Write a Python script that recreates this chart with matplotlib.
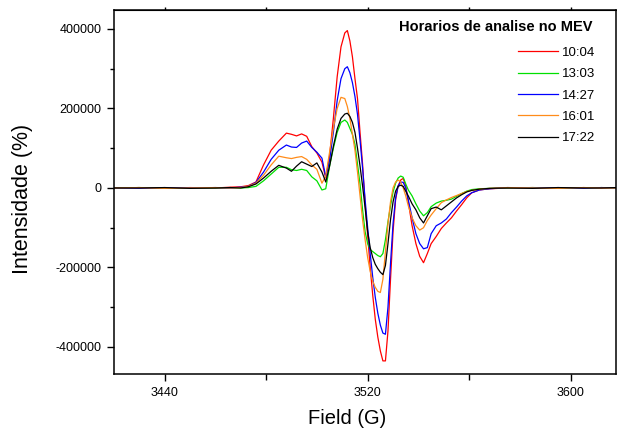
import matplotlib.pyplot as plt
from matplotlib.ticker import MultipleLocator, FixedLocator

plt.rcParams['font.family'] = ['Liberation Sans', 'DejaVu Sans']
plt.rcParams['axes.unicode_minus'] = False

# field (G) and intensities (in thousands)
field = [3420, 3430, 3440, 3450, 3460, 3466, 3470, 3473, 3476, 3479,
         3482, 3485, 3488, 3490, 3492, 3494, 3496, 3498, 3500, 3502,
         3503.5, 3505, 3506.5, 3508, 3509.5, 3511, 3512, 3513, 3514, 3515,
         3516, 3517, 3518, 3519, 3520, 3521, 3522, 3523, 3524, 3525,
         3526, 3527, 3528, 3529, 3530, 3531, 3532, 3533, 3534, 3535,
         3536, 3537.5, 3539, 3540.5, 3542, 3543.5, 3545, 3547, 3549, 3551,
         3553, 3555, 3557, 3559, 3561, 3564, 3568, 3575, 3585, 3595,
         3605, 3612, 3618]

t1004 = [0, 1, -1, 1, 0, 2, 3, 6, 15, 58,
         95, 118, 138, 135, 131, 136, 130, 104, 88, 65,
         25, 80, 175, 280, 355, 390, 396, 370, 330, 275,
         225, 140, 60, -40, -120, -200, -270, -330, -375, -410,
         -435, -435, -360, -230, -110, -30, 5, 20, 24, 5,
         -35, -95, -140, -172, -188, -165, -140, -122, -102, -88,
         -75, -58, -42, -25, -12, -5, -2, 0, 1, -1,
         1, 0, 1]

t1303 = [0, 1, 0, -1, 0, 1, 0, 1, 4, 18,
         35, 52, 52, 46, 44, 47, 44, 28, 18, -5,
         -2, 55, 100, 140, 165, 171, 165, 150, 135, 110,
         60, 10, -55, -110, -140, -155, -160, -165, -170, -173,
         -165, -130, -85, -45, -10, 12, 25, 30, 27, 10,
         -5, -20, -40, -58, -70, -62, -47, -38, -33, -31,
         -28, -21, -14, -8, -4, -2, -1, 0, 1, 0,
         -1, 1, 0]

t1427 = [0, -1, 1, 0, 1, 0, 2, 4, 14, 40,
         72, 95, 108, 103, 102, 113, 118, 102, 90, 75,
         28, 70, 140, 220, 275, 300, 305, 290, 265, 230,
         185, 120, 50, -30, -100, -165, -225, -275, -315, -345,
         -365, -368, -300, -190, -90, -25, 5, 15, 14, 0,
         -30, -75, -115, -140, -153, -150, -115, -95, -88, -78,
         -62, -48, -33, -20, -12, -5, -2, 1, 0, 1,
         -1, 1, 0]

t1601 = [0, 1, -1, 0, 1, 0, 1, 4, 12, 32,
         58, 80, 76, 74, 77, 79, 72, 58, 47, 12,
         30, 90, 150, 200, 228, 225, 205, 175, 135, 95,
         40, -20, -80, -130, -175, -210, -235, -250, -260, -263,
         -230, -160, -90, -35, 0, 15, 20, 15, 0, -20,
         -45, -75, -95, -106, -100, -82, -68, -52, -37, -30,
         -24, -19, -14, -9, -6, -3, -1, 1, 0, -1,
         1, 0, 0]

t1722 = [0, 0, 1, -1, 0, 1, 0, 3, 10, 25,
         42, 57, 50, 42, 55, 66, 60, 54, 63, 40,
         15, 55, 105, 148, 175, 186, 188, 180, 165, 140,
         100, 55, 5, -50, -110, -150, -175, -192, -203, -212,
         -218, -195, -140, -80, -35, -8, 4, 7, 4, -8,
         -20, -40, -55, -75, -88, -70, -52, -48, -55, -45,
         -35, -25, -17, -10, -6, -3, -1, 0, -1, 1,
         0, 0, 1]

labels = ['10:04', '13:03', '14:27', '16:01', '17:22']
series = [t1004, t1303, t1427, t1601, t1722]
colors = ['#ff0000', '#00e000', '#0000ff', '#ff8c1a', '#000000']

fig = plt.figure(figsize=(6.17, 4.28), dpi=100)
ax = fig.add_axes([0.1843, 0.1255, 0.8141, 0.8512])

for i in range(5):
    ax.plot(field, [v * 1000 for v in series[i]], color=colors[i], lw=0.9,
            label=labels[i])

ax.set_xlim(3420, 3617.8)
ax.set_ylim(-468700, 447800)

ax.xaxis.set_major_locator(FixedLocator([3440, 3520, 3600]))
ax.xaxis.set_minor_locator(FixedLocator([3480, 3560]))
ax.yaxis.set_major_locator(MultipleLocator(200000))
ax.yaxis.set_minor_locator(MultipleLocator(100000))
ax.yaxis.set_major_formatter(lambda v, p: '%d' % v)

ax.tick_params(which='both', direction='out', width=1, labelsize=9)
ax.tick_params(which='major', length=5, pad=4)
ax.tick_params(which='minor', length=3)
ax.tick_params(axis='x', which='minor', length=4)
for s in ax.spines.values():
    s.set_linewidth(1.1)

# short ticks on the top frame
top = ax.secondary_xaxis('top')
top.xaxis.set_major_locator(FixedLocator([3440, 3520, 3600]))
top.xaxis.set_minor_locator(FixedLocator([3480, 3560]))
top.tick_params(which='both', direction='out', length=2.5, width=1,
                labeltop=False)

ax.set_xlabel('Field (G)', fontsize=14.5)
ax.set_ylabel('Intensidade (%)', fontsize=15.5)
ax.xaxis.set_label_coords(0.4645, -0.095)
ax.yaxis.set_label_coords(-0.1607, 0.48)

ax.text(0.954, 0.953, 'Horarios de analise no MEV', transform=ax.transAxes,
        ha='right', va='center', fontsize=10.5, fontweight='bold')
ax.legend(loc='upper right', bbox_to_anchor=(0.958, 0.8995), frameon=False,
          fontsize=9.5, borderpad=0, borderaxespad=0, handlelength=3.0,
          handletextpad=0.3, labelspacing=0.69)

fig.savefig('out.png', dpi=100)
